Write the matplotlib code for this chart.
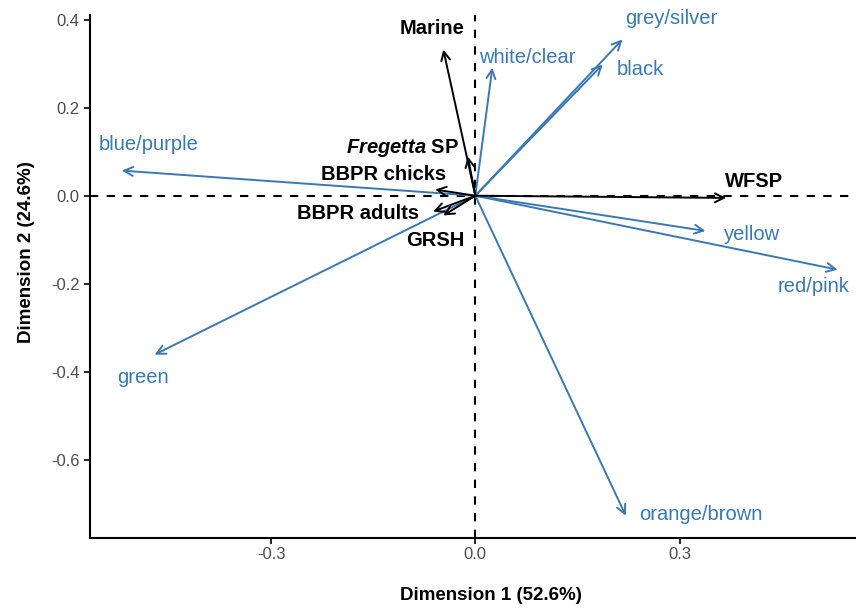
import matplotlib.pyplot as plt
from matplotlib import rcParams
rcParams['font.family'] = ['Liberation Sans', 'DejaVu Sans']
rcParams['mathtext.fontset'] = 'custom'
rcParams['mathtext.it'] = 'Liberation Sans:italic:bold'
rcParams['mathtext.bf'] = 'Liberation Sans:bold'
rcParams['mathtext.rm'] = 'Liberation Sans:bold'

# colour categories (blue arrows)
colours = ['blue/purple', 'green', 'white/clear', 'grey/silver', 'black', 'yellow', 'red/pink', 'orange/brown']
colourX = [-0.519, -0.471, 0.025, 0.216, 0.187, 0.338, 0.532, 0.221]
colourY = [0.057, -0.361, 0.291, 0.355, 0.298, -0.080, -0.168, -0.727]
colourLabX = [-0.480, -0.488, 0.076, 0.287, 0.243, 0.407, 0.496, 0.331]
colourLabY = [0.116, -0.414, 0.314, 0.402, 0.286, -0.089, -0.207, -0.725]

# groups (black arrows)
groups = ['Marine', 'Fregetta SP', 'BBPR chicks', 'BBPR adults', 'GRSH', 'WFSP']
groupX = [-0.047, -0.011, -0.059, -0.062, -0.047, 0.368]
groupY = [0.332, 0.089, 0.014, -0.036, -0.045, -0.005]
groupLabX = [-0.063, -0.107, -0.135, -0.172, -0.059, 0.409]
groupLabY = [0.380, 0.109, 0.048, -0.041, -0.102, 0.032]

blue = '#3A78B4'

fig = plt.figure(figsize=(8.56, 6.09), dpi=100)
ax = fig.add_axes([0.105, 0.117, 0.895, 0.858])

ax.axhline(0, color='black', lw=1.5, ls=(0, (4, 4)), zorder=1)
ax.axvline(0, color='black', lw=1.5, ls=(0, (4, 4)), zorder=1)

for i in range(len(colours)):
    ax.annotate('', xy=(colourX[i], colourY[i]), xytext=(0, 0),
                arrowprops=dict(arrowstyle='->', color=blue, lw=1.4, mutation_scale=16,
                                shrinkA=0, shrinkB=0), zorder=2)
    ax.text(colourLabX[i], colourLabY[i], colours[i], color=blue, fontsize=14.5,
            ha='center', va='center')

for i in range(len(groups)):
    ax.annotate('', xy=(groupX[i], groupY[i]), xytext=(0, 0),
                arrowprops=dict(arrowstyle='->', color='black', lw=1.4, mutation_scale=16,
                                shrinkA=0, shrinkB=0), zorder=3)
    label = groups[i]
    if label == 'Fregetta SP':
        label = r'$\mathit{Fregetta}$ SP'
    ax.text(groupLabX[i], groupLabY[i], label, color='black', fontsize=14.5,
            ha='center', va='center', fontweight='bold')

ax.set_xlim(-0.566, 0.559)
ax.set_ylim(-0.777, 0.41)
ax.set_xticks([-0.3, 0.0, 0.3])
ax.set_xticklabels(['-0.3', '0.0', '0.3'])
ax.set_yticks([0.4, 0.2, 0.0, -0.2, -0.4, -0.6])
ax.set_yticklabels(['0.4', '0.2', '0.0', '-0.2', '-0.4', '-0.6'])
ax.tick_params(axis='both', colors='black', labelcolor='#4D4D4D', labelsize=12,
               length=4, width=1.2, direction='out')
ax.tick_params(axis='x', pad=3)

for s in ['top', 'right']:
    ax.spines[s].set_visible(False)
for s in ['left', 'bottom']:
    ax.spines[s].set_linewidth(1.5)

fig.text(491/856, 1-595/609, 'Dimension 1 (52.6%)', fontsize=13.5, fontweight='bold',
         ha='center', va='center')
fig.text(27/856, 1-252/609, 'Dimension 2 (24.6%)', fontsize=13.5, fontweight='bold',
         ha='center', va='center', rotation=90)

fig.savefig('out.png', dpi=100)
